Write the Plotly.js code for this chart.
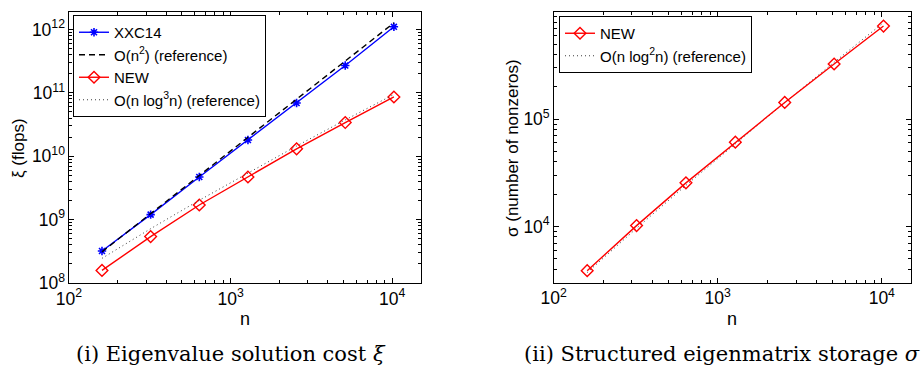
<!DOCTYPE html>
<html><head><meta charset="utf-8">
<script src="https://cdn.plot.ly/plotly-3.0.1.min.js"></script>
<style>html,body{margin:0;padding:0;background:#fff}#chart{width:921px;height:373px}</style>
</head><body><div id="chart"></div>
<script>
const n = [160, 320, 640, 1280, 2560, 5120, 10240];
const xxc14 = [3.2e8, 1.2e9, 4.7e9, 1.8e10, 6.9e10, 2.7e11, 1.1e12];
const refN2 = [3.1e8, 1.24e9, 4.96e9, 1.98e10, 7.94e10, 3.17e11, 1.27e12];
const newCost = [1.58e8, 5.4e8, 1.7e9, 4.7e9, 1.31e10, 3.4e10, 8.6e10];
const refNlog3 = [2.45e8, 7.19e8, 2.02e9, 5.49e9, 1.45e10, 3.74e10, 9.44e10];
const newStorage = [3880, 10200, 25500, 61000, 143000, 326000, 735000];
const refNlog2 = [3730, 9640, 24200, 59300, 142800, 338000, 790000];

const names = {
  xxc: 'XXC14',
  n2: 'O(n<sup>2</sup>) (reference)',
  nw: 'NEW',
  nlog3: 'O(n log<sup>3</sup>n) (reference)',
  nlog2: 'O(n log<sup>2</sup>n) (reference)'
};
const captions = ['(i) Eigenvalue solution cost <i>ξ</i>', '(ii) Structured eigenmatrix storage <i>σ</i>'];
const yTitles = ['ξ (flops)', 'σ (number of nonzeros)'];

const blue = 'rgb(0,0,255)', red = 'rgb(255,0,0)';
const sans = 'Liberation Sans, Arial, sans-serif';

const traces = [
  {x: n, y: xxc14, name: names.xxc, mode: 'lines+markers', xaxis: 'x', yaxis: 'y', legend: 'legend',
   line: {color: blue, width: 1.4}, marker: {symbol: 'asterisk-open', size: 7, line: {color: blue, width: 1.6}, color: blue}},
  {x: n, y: refN2, name: names.n2, mode: 'lines', xaxis: 'x', yaxis: 'y', legend: 'legend',
   line: {color: 'black', width: 1.4, dash: '6px,4px'}},
  {x: n, y: newCost, name: names.nw, mode: 'lines+markers', xaxis: 'x', yaxis: 'y', legend: 'legend',
   line: {color: red, width: 1.4}, marker: {symbol: 'diamond-open', size: 9, line: {color: red, width: 1.4}, color: red}},
  {x: n, y: refNlog3, name: names.nlog3, mode: 'lines', xaxis: 'x', yaxis: 'y', legend: 'legend',
   line: {color: 'rgb(60,60,60)', width: 1, dash: '1px,3px'}},
  {x: n, y: refNlog2, name: names.nlog2, mode: 'lines', xaxis: 'x2', yaxis: 'y2', legend: 'legend2',
   line: {color: 'rgb(60,60,60)', width: 1, dash: '1px,3px'}, showlegend: true},
  {x: n, y: newStorage, name: names.nw, mode: 'lines+markers', xaxis: 'x2', yaxis: 'y2', legend: 'legend2',
   line: {color: red, width: 1.4}, marker: {symbol: 'diamond-open', size: 9, line: {color: red, width: 1.4}, color: red}}
];

const tickFont = {family: sans, size: 14, color: 'black'};
function logAxis(range, domain, anchor) {
  return {
    type: 'log', range: range, domain: domain, anchor: anchor,
    dtick: 1, exponentformat: 'power', showexponent: 'all',
    ticks: 'inside', ticklen: 5, tickwidth: 1, tickcolor: 'black',
    minor: {dtick: 'D1', ticks: 'inside', ticklen: 3, tickcolor: 'black', showgrid: false},
    showline: true, linecolor: 'black', linewidth: 1.2, mirror: 'allticks',
    showgrid: false, zeroline: false, tickfont: tickFont, automargin: false
  };
}

function ann(text, px, py, size, family, angle) {
  return {text: text, x: px/921, y: 1 - py/373, xref: 'paper', yref: 'paper',
    xanchor: 'center', yanchor: 'middle', textangle: angle || 0, showarrow: false,
    font: {family: family, size: size, color: 'black'}};
}

const xr = [2, Math.log10(15000)];
const legendFont = {family: sans, size: 15, color: 'black'};
const layout = {
  width: 921, height: 373,
  margin: {l: 0, r: 0, t: 0, b: 0},
  paper_bgcolor: 'white', plot_bgcolor: 'white',
  showlegend: true,
  xaxis: logAxis(xr, [69/921, 420.7/921], 'y'),
  yaxis: logAxis([8, 12.28], [90/373, 361.3/373], 'x'),
  xaxis2: logAxis(xr, [553.7/921, 910.7/921], 'y2'),
  yaxis2: logAxis([Math.log10(3000), 6], [90.3/373, 361.3/373], 'x2'),
  legend: {x: 73/921, y: 1 - 15/373, xanchor: 'left', yanchor: 'top', xref: 'paper', yref: 'paper',
    bgcolor: 'white', bordercolor: 'black', borderwidth: 1, font: legendFont,
    tracegroupgap: 0, itemwidth: 30},
  legend2: {x: 559/921, y: 1 - 16/373, xanchor: 'left', yanchor: 'top', xref: 'paper', yref: 'paper',
    bgcolor: 'white', bordercolor: 'black', borderwidth: 1, font: legendFont,
    traceorder: 'reversed', itemwidth: 30},
  annotations: [
    ann(yTitles[0], 18, 148, 17, sans, -90),
    ann(yTitles[1], 512, 148, 17, sans, -90),
    ann('n', 245, 319, 18, sans),
    ann('n', 732, 319, 18, sans),
    ann(captions[0], 231, 354, 21, 'DejaVu Serif, serif'),
    ann(captions[1], 722, 354, 21, 'DejaVu Serif, serif')
  ]
};
Plotly.newPlot('chart', traces, layout, {staticPlot: true, displayModeBar: false});
</script>
</body></html>
